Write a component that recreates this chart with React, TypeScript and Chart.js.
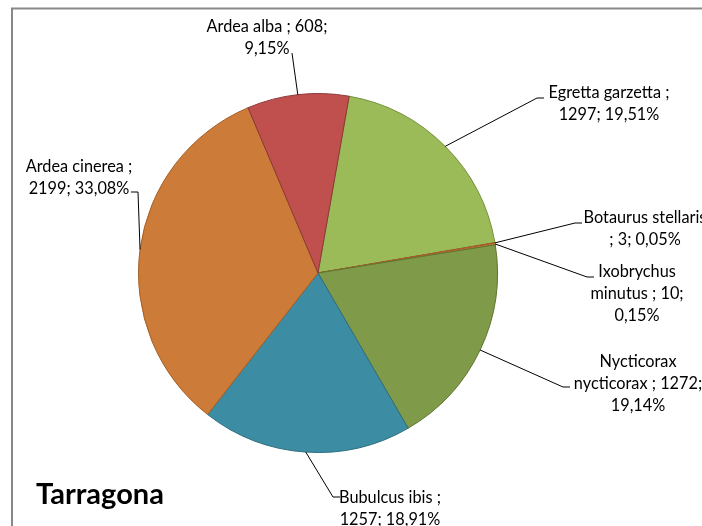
import React, { useEffect, useRef } from "react";
import { Chart, registerables } from "chart.js";

Chart.register(...registerables);

// ---- data ----
const categories = [
  "Egretta garzetta",
  "Botaurus stellaris",
  "Ixobrychus minutus",
  "Nycticorax nycticorax",
  "Bubulcus ibis",
  "Ardea cinerea",
  "Ardea alba",
];
const values = [1297, 3, 10, 1272, 1257, 2199, 608];
const percents = [19.51, 0.05, 0.15, 19.14, 18.91, 33.08, 9.15];
const chartTitle = "Tarragona";

// ---- styles ----
const fillColors = ["#9BBB59", "#B9602E", "#D07A3A", "#7F9A48", "#3C8DA3", "#CC7B38", "#C0504D"];
const edgeColors = ["#76923C", "#A0522D", "#A45F25", "#5E7530", "#2E6E80", "#A45F25", "#8C3836"];

// ---- label layout (leader elbow / end, first line centre, words per line) ----
const labelLayout = [
  { elbow: [537, 98], end: [544, 98], cx: 609, cy: 93, words: [3, 2] },
  { elbow: [575, 223], end: [582, 223], cx: 645, cy: 218, words: [2, 3] },
  { elbow: [587, 277], end: [594, 277], cx: 637, cy: 272, words: [1, 3, 1] },
  { elbow: [563, 387], end: [570, 387], cx: 638, cy: 362, words: [1, 3, 1] },
  { elbow: [333, 497], end: [340, 497], cx: 390, cy: 498, words: [3, 2] },
  { elbow: [138, 192], end: [131, 192], cx: 79, cy: 167, words: [3, 2] },
  { elbow: [292, 53], end: [292, 53], cx: 267, cy: 27, words: [4, 1] },
];
const LINE_H = 22;
const LABEL_FONT = "16.3px Lato";
const TITLE_FONT = "bold 29px Lato";

function labelLines(i: number): string[] {
  const pct = percents[i].toFixed(2).replace(".", ",");
  const text = `${categories[i]} ; ${values[i]}; ${pct}%`;
  const words = text.split(" ");
  const out: string[] = [];
  let k = 0;
  for (const n of labelLayout[i].words) {
    out.push(words.slice(k, k + n).join(" "));
    k += n;
  }
  return out;
}

const decorPlugin = {
  id: "decor",
  beforeDraw(chart: any) {
    const ctx = chart.ctx;
    ctx.save();
    ctx.fillStyle = "#ffffff";
    ctx.fillRect(0, 0, chart.width, chart.height);
    ctx.strokeStyle = "#888888";
    ctx.lineWidth = 2;
    ctx.strokeRect(12, 8.5, 900, 900);
    ctx.restore();
  },
  afterDraw(chart: any) {
    const ctx = chart.ctx;
    const meta = chart.getDatasetMeta(0);
    ctx.save();
    meta.data.forEach((arc: any, i: number) => {
      const p = arc.getProps(["x", "y", "startAngle", "endAngle", "outerRadius"], true);
      const mid = (p.startAngle + p.endAngle) / 2;
      const sx = p.x + Math.cos(mid) * p.outerRadius;
      const sy = p.y + Math.sin(mid) * p.outerRadius;
      const L = labelLayout[i];
      ctx.beginPath();
      ctx.strokeStyle = "#000000";
      ctx.lineWidth = 1;
      ctx.moveTo(sx, sy);
      ctx.lineTo(L.elbow[0], L.elbow[1]);
      ctx.lineTo(L.end[0], L.end[1]);
      ctx.stroke();
      ctx.fillStyle = "#000000";
      ctx.font = LABEL_FONT;
      ctx.textAlign = "center";
      ctx.textBaseline = "middle";
      labelLines(i).forEach((line, j) => {
        ctx.fillText(line, L.cx, L.cy + j * LINE_H);
      });
    });
    ctx.fillStyle = "#000000";
    ctx.font = TITLE_FONT;
    ctx.textAlign = "left";
    ctx.textBaseline = "middle";
    ctx.fillText(chartTitle, 36, 495);
    ctx.restore();
  },
};

export default function App() {
  const ref = useRef<HTMLCanvasElement | null>(null);
  useEffect(() => {
    if (!ref.current) return;
    const chart = new Chart(ref.current, {
      type: "pie",
      data: {
        labels: categories,
        datasets: [
          {
            data: values,
            backgroundColor: fillColors,
            borderColor: edgeColors,
            borderWidth: 1,
          },
        ],
      },
      options: {
        responsive: false,
        animation: false,
        rotation: 10,
        layout: { padding: { left: 138, right: 204, top: 93, bottom: 73 } },
        plugins: {
          legend: { display: false },
          tooltip: { enabled: false },
          title: { display: false },
        },
      },
      plugins: [decorPlugin],
    });
    return () => chart.destroy();
  }, []);
  return (
    <div style={{ position: "absolute", left: 0, top: 0, width: 702, height: 526 }}>
      <canvas ref={ref} width={702} height={526} style={{ width: 702, height: 526 }} />
    </div>
  );
}
